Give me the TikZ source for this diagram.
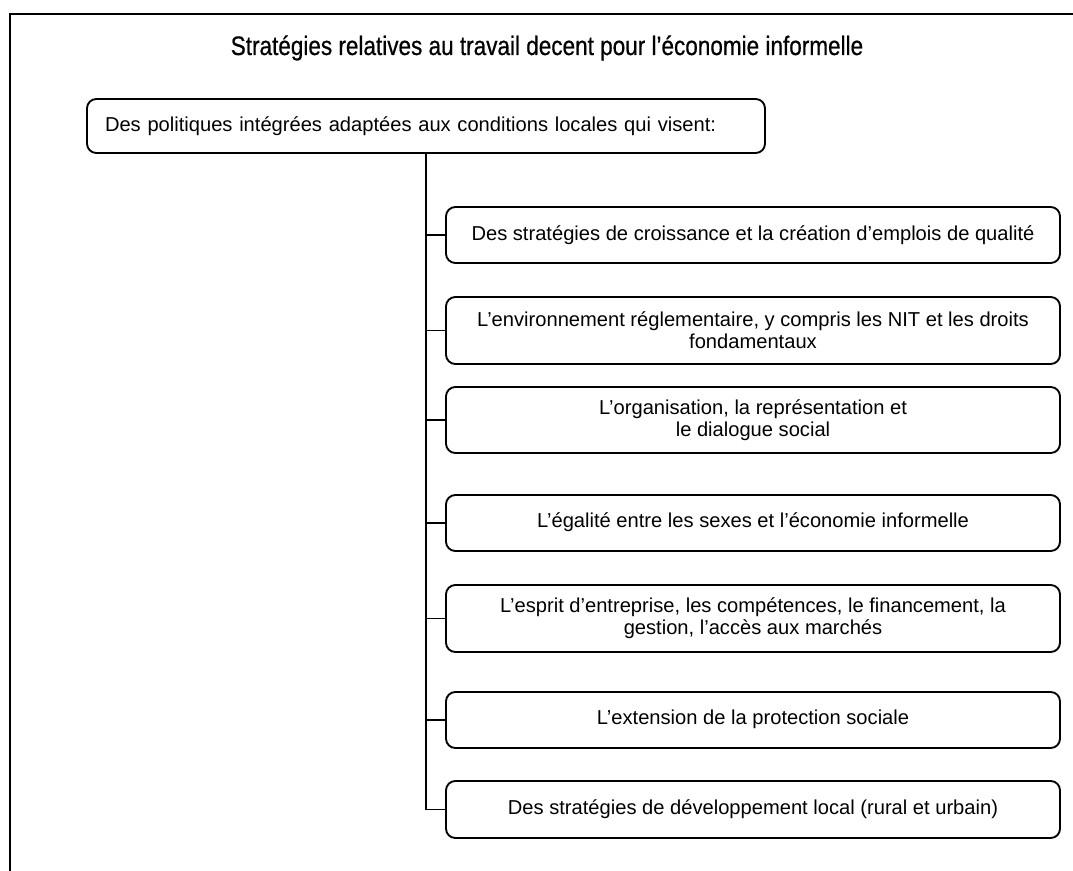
\documentclass[tikz,border=0pt]{standalone}
\usepackage{fontspec}
\setmainfont{Liberation Sans}
\newfontfamily\narrowfont[FakeStretch=0.845,FakeBold=0.6]{Liberation Sans}
\begin{document}
\begin{tikzpicture}[x=0.75pt,y=-0.75pt,
  box/.style={draw=black, line width=1.4pt, rounded corners=7pt, inner sep=0pt,
    align=center, font=\fontsize{15.1pt}{16.5pt}\selectfont},
  child/.style={box, minimum width=460.5pt},
  link/.style={draw=black, line width=1.4pt},
  frame/.style={draw=black, line width=2.1pt}]
\useasboundingbox (0,0) rectangle (1073,870);
\begin{scope}
\clip (0,0) rectangle (1073,870);
\draw[frame] (10,900) -- (10,14) -- (1100,14);
\end{scope}
\node[anchor=base, font=\narrowfont\fontsize{20pt}{23pt}\selectfont] (title) at (547,55)
  {Stratégies relatives au travail decent pour l’économie informelle};
\node[box, align=left, inner xsep=13.5pt, text width=481.5pt, minimum height=40.5pt] (top) at (426,126)
  {\raisebox{3pt}{Des politiques intégrées adaptées aux conditions locales qui visent:}};
\node[child, minimum height=42pt] (b1) at (753,235)
  {\raisebox{3.5pt}{Des stratégies de croissance et la création d’emplois de qualité}};
\node[child, minimum height=50.25pt] (b2) at (753,330.5)
  {L’environnement réglementaire, y compris les NIT et les droits\\fondamentaux};
\node[child, minimum height=49.5pt] (b3) at (753,420)
  {L’organisation, la représentation et\\le dialogue social};
\node[child, minimum height=42pt] (b4) at (753,523)
  {\raisebox{4pt}{L’égalité entre les sexes et l’économie informelle}};
\node[child, minimum height=50.25pt] (b5) at (753,618.5)
  {L’esprit d’entreprise, les compétences, le financement, la\\gestion, l’accès aux marchés};
\node[child, minimum height=42pt] (b6) at (753,720)
  {\raisebox{4pt}{L’extension de la protection sociale}};
\node[child, minimum height=42.75pt] (b7) at (753,809.5)
  {Des stratégies de développement local (rural et urbain)};
\draw[link] (top.south) |- (b7.west);
\foreach \b in {b1,b2,b3,b4,b5,b6}
  \draw[link] (top.south |- \b.west) -- (\b.west);
\end{tikzpicture}
\end{document}
